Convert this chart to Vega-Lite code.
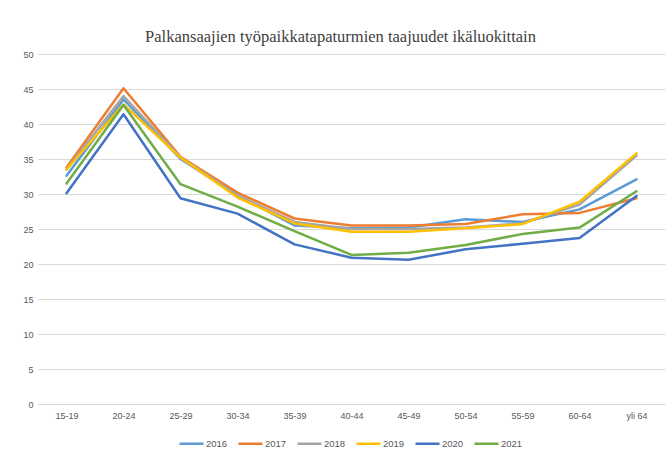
{
  "$schema": "https://vega.github.io/schema/vega-lite/v6.json",
  "width": 627,
  "height": 350,
  "autosize": "none",
  "padding": {"left": 38, "top": 54, "right": 5, "bottom": 47},
  "background": "white",
  "config": {"view": {"stroke": null}, "font": "Liberation Sans"},
  "title": {"text": "Palkansaajien työpaikkatapaturmien taajuudet ikäluokittain", "font": "Liberation Serif", "fontSize": 16.5, "fontWeight": "normal", "color": "#404040", "anchor": "middle", "dx": -11, "offset": 5},
  "data": {"values": [
    {"ika": "15-19", "vuosi": "2016", "arvo": 32.6}, {"ika": "20-24", "vuosi": "2016", "arvo": 43.5}, {"ika": "25-29", "vuosi": "2016", "arvo": 35.0}, {"ika": "30-34", "vuosi": "2016", "arvo": 29.8}, {"ika": "35-39", "vuosi": "2016", "arvo": 25.5}, {"ika": "40-44", "vuosi": "2016", "arvo": 25.1}, {"ika": "45-49", "vuosi": "2016", "arvo": 25.2}, {"ika": "50-54", "vuosi": "2016", "arvo": 26.4}, {"ika": "55-59", "vuosi": "2016", "arvo": 26.0}, {"ika": "60-64", "vuosi": "2016", "arvo": 27.8}, {"ika": "yli 64", "vuosi": "2016", "arvo": 32.1},
    {"ika": "15-19", "vuosi": "2017", "arvo": 33.8}, {"ika": "20-24", "vuosi": "2017", "arvo": 45.1}, {"ika": "25-29", "vuosi": "2017", "arvo": 35.3}, {"ika": "30-34", "vuosi": "2017", "arvo": 30.2}, {"ika": "35-39", "vuosi": "2017", "arvo": 26.5}, {"ika": "40-44", "vuosi": "2017", "arvo": 25.5}, {"ika": "45-49", "vuosi": "2017", "arvo": 25.5}, {"ika": "50-54", "vuosi": "2017", "arvo": 25.7}, {"ika": "55-59", "vuosi": "2017", "arvo": 27.1}, {"ika": "60-64", "vuosi": "2017", "arvo": 27.3}, {"ika": "yli 64", "vuosi": "2017", "arvo": 29.4},
    {"ika": "15-19", "vuosi": "2018", "arvo": 33.5}, {"ika": "20-24", "vuosi": "2018", "arvo": 44.0}, {"ika": "25-29", "vuosi": "2018", "arvo": 35.2}, {"ika": "30-34", "vuosi": "2018", "arvo": 29.8}, {"ika": "35-39", "vuosi": "2018", "arvo": 26.0}, {"ika": "40-44", "vuosi": "2018", "arvo": 25.0}, {"ika": "45-49", "vuosi": "2018", "arvo": 25.0}, {"ika": "50-54", "vuosi": "2018", "arvo": 25.2}, {"ika": "55-59", "vuosi": "2018", "arvo": 25.8}, {"ika": "60-64", "vuosi": "2018", "arvo": 28.5}, {"ika": "yli 64", "vuosi": "2018", "arvo": 35.5},
    {"ika": "15-19", "vuosi": "2019", "arvo": 33.5}, {"ika": "20-24", "vuosi": "2019", "arvo": 42.8}, {"ika": "25-29", "vuosi": "2019", "arvo": 35.2}, {"ika": "30-34", "vuosi": "2019", "arvo": 29.5}, {"ika": "35-39", "vuosi": "2019", "arvo": 25.8}, {"ika": "40-44", "vuosi": "2019", "arvo": 24.6}, {"ika": "45-49", "vuosi": "2019", "arvo": 24.6}, {"ika": "50-54", "vuosi": "2019", "arvo": 25.1}, {"ika": "55-59", "vuosi": "2019", "arvo": 25.7}, {"ika": "60-64", "vuosi": "2019", "arvo": 28.9}, {"ika": "yli 64", "vuosi": "2019", "arvo": 35.8},
    {"ika": "15-19", "vuosi": "2020", "arvo": 30.1}, {"ika": "20-24", "vuosi": "2020", "arvo": 41.4}, {"ika": "25-29", "vuosi": "2020", "arvo": 29.4}, {"ika": "30-34", "vuosi": "2020", "arvo": 27.2}, {"ika": "35-39", "vuosi": "2020", "arvo": 22.8}, {"ika": "40-44", "vuosi": "2020", "arvo": 20.9}, {"ika": "45-49", "vuosi": "2020", "arvo": 20.6}, {"ika": "50-54", "vuosi": "2020", "arvo": 22.1}, {"ika": "55-59", "vuosi": "2020", "arvo": 22.9}, {"ika": "60-64", "vuosi": "2020", "arvo": 23.7}, {"ika": "yli 64", "vuosi": "2020", "arvo": 29.7},
    {"ika": "15-19", "vuosi": "2021", "arvo": 31.5}, {"ika": "20-24", "vuosi": "2021", "arvo": 42.7}, {"ika": "25-29", "vuosi": "2021", "arvo": 31.4}, {"ika": "30-34", "vuosi": "2021", "arvo": 28.2}, {"ika": "35-39", "vuosi": "2021", "arvo": 24.7}, {"ika": "40-44", "vuosi": "2021", "arvo": 21.3}, {"ika": "45-49", "vuosi": "2021", "arvo": 21.6}, {"ika": "50-54", "vuosi": "2021", "arvo": 22.7}, {"ika": "55-59", "vuosi": "2021", "arvo": 24.3}, {"ika": "60-64", "vuosi": "2021", "arvo": 25.2}, {"ika": "yli 64", "vuosi": "2021", "arvo": 30.4}
  ]},
  "mark": {"type": "line", "strokeWidth": 2.5, "strokeCap": "round", "strokeJoin": "round"},
  "encoding": {
    "x": {"field": "ika", "type": "ordinal", "sort": null, "title": null,
      "scale": {"paddingInner": 0, "paddingOuter": 0.5},
      "axis": {"labelAngle": 0, "labelFontSize": 9, "labelColor": "#595959", "domainColor": "#D9D9D9", "domainWidth": 1, "ticks": false, "labelPadding": 7, "grid": false}},
    "y": {"field": "arvo", "type": "quantitative", "title": null,
      "scale": {"domain": [0, 50], "nice": false},
      "axis": {"values": [0, 5, 10, 15, 20, 25, 30, 35, 40, 45, 50], "labelFontSize": 9, "labelColor": "#595959", "domain": false, "ticks": false, "labelPadding": 5, "gridColor": "#D9D9D9", "gridWidth": 1}},
    "color": {"field": "vuosi", "type": "nominal", "title": null,
      "scale": {"domain": ["2016", "2017", "2018", "2019", "2020", "2021"], "range": ["#5B9BD5", "#ED7D31", "#A5A5A5", "#FFC000", "#4472C4", "#70AD47"]},
      "legend": {"orient": "none", "legendX": 140, "legendY": 376, "direction": "horizontal", "symbolType": "stroke", "symbolSize": 576, "symbolStrokeWidth": 2.5, "labelFontSize": 9.5, "labelColor": "#595959", "columnPadding": 5, "labelOffset": 1, "padding": 0}}
  }
}
